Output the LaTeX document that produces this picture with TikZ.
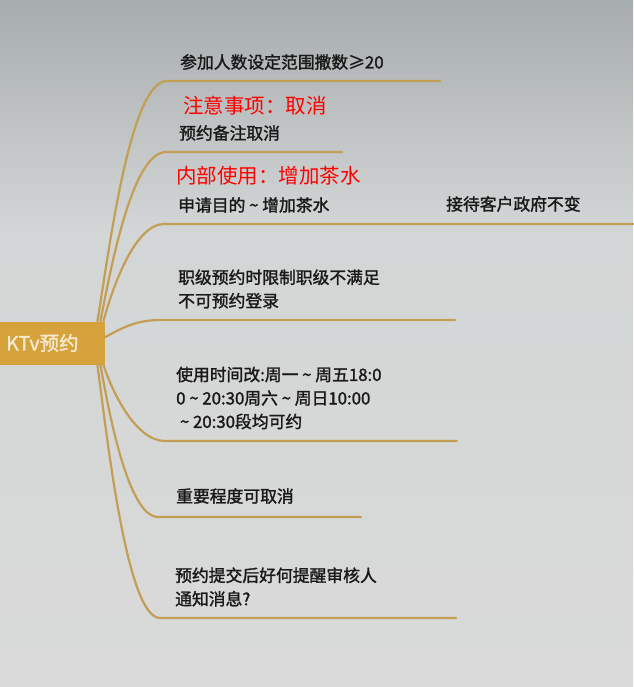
\documentclass[tikz,border=0pt]{standalone}
\usepackage{fontspec}
\setmainfont{Noto Sans CJK SC}
\newfontfamily\medfont[FakeBold=1.6]{Noto Sans CJK SC}
\definecolor{gold}{HTML}{D6A23C}
\definecolor{branchc}{HTML}{C39E55}
\definecolor{rootfg}{HTML}{F6E9CF}
\definecolor{bgtop}{HTML}{A7ACAE}
\definecolor{bgmid}{HTML}{D3D6D6}
\definecolor{bgbot}{HTML}{D9DAD9}
\begin{document}
\begin{tikzpicture}[x=1pt,y=-1pt,
  branch/.style={draw=branchc, line width=2.2pt, line cap=round},
  topic/.style={anchor=west, inner sep=0pt, align=left, text=black!90,
    font=\medfont\fontsize{16.8}{23.5}\selectfont},
  note/.style={anchor=west, inner sep=0pt, text=red,
    font=\fontsize{20.5}{24}\selectfont}]
  \useasboundingbox (0,0) rectangle (633,687);
  \shade[top color=bgtop, bottom color=bgmid] (0,0) rectangle (633,230);
  \shade[top color=bgmid, bottom color=bgbot] (0,230) rectangle (633,687);
  % root
  \node[fill=gold, text=rootfg, minimum height=43pt, text width=93pt, inner xsep=6pt,
    anchor=west, font=\medfont\fontsize{19.5}{21}\selectfont] (root) at (0,343) {KTv预约};
  % ends of the underlines
  \coordinate (a1) at (167,81);  \coordinate (z1) at (440,81);
  \coordinate (a2) at (166,152); \coordinate (z2) at (342,152);
  \coordinate (a3) at (164,224); \coordinate (z3) at (633,224);
  \coordinate (a4) at (160,320); \coordinate (z4) at (455,320);
  \coordinate (a5) at (165,441); \coordinate (z5) at (457,441);
  \coordinate (a6) at (158,517); \coordinate (z6) at (361,517);
  \coordinate (a7) at (160,618); \coordinate (z7) at (456,618);
  \draw[branch] ([xshift=-8pt]root.north east) .. controls +(12,-72) and +(-37,0) .. (a1) -- (z1);
  \draw[branch] ([xshift=-5pt]root.north east) .. controls +(10,-51) and +(-34,0) .. (a2) -- (z2);
  \draw[branch] ([xshift=-2pt]root.north east) .. controls +(8,-30) and +(-30,0) .. (a3) -- (z3);
  \draw[branch] ([yshift=6pt]root.east) .. controls +(15,-8) and +(-25,0) .. (a4) -- (z4);
  \draw[branch] ([xshift=-2pt]root.south east) .. controls +(8,25) and +(-30,0) .. (a5) -- (z5);
  \draw[branch] ([xshift=-5pt]root.south east) .. controls +(8,45) and +(-30,0) .. (a6) -- (z6);
  \draw[branch] ([xshift=-8pt]root.south east) .. controls +(10,75) and +(-33,0) .. (a7) -- (z7);
  % topics
  \node[topic] (t1) at (180,62) {参加人数设定范围撒数≥20};
  \node[note] (n1) at (183,106) {注意事项：取消};
  \node[topic] (t2) at (179,133) {预约备注取消};
  \node[note] (n2) at (176,176) {内部使用：增加茶水};
  \node[topic] (t3) at (178,205) {申请目的 \textasciitilde{} 增加茶水};
  \node[topic] (t3b) at (446,204) {接待客户政府不变};
  \node[topic] (t4) at (178,289) {职级预约时限制职级不满足\\不可预约登录};
  \node[topic] (t5) at (176,398) {使用时间改:周一 \textasciitilde{} 周五18:0\\0 \textasciitilde{} 20:30周六 \textasciitilde{} 周日10:00\\\ \textasciitilde{} 20:30段均可约};
  \node[topic] (t6) at (176,496) {重要程度可取消};
  \node[topic] (t7) at (175,587) {预约提交后好何提醒审核人\\通知消息?};
\end{tikzpicture}
\end{document}
